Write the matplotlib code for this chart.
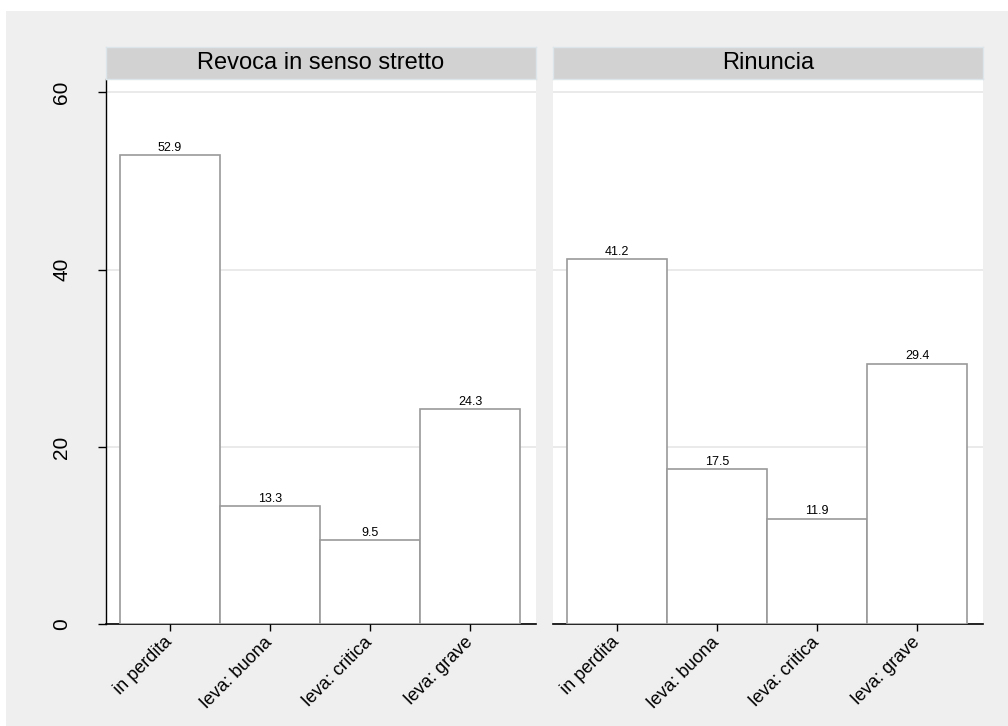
import matplotlib
matplotlib.use("Agg")
import matplotlib.pyplot as plt
from matplotlib.patches import Rectangle

plt.rcParams['font.family'] = ['Liberation Sans', 'DejaVu Sans']

# dati
categorie = ["in perdita", "leva: buona", "leva: critica", "leva: grave"]
pannelli = ["Revoca in senso stretto", "Rinuncia"]
revoca = [52.9, 13.3, 9.5, 24.3]
rinuncia = [41.2, 17.5, 11.9, 29.4]
valori = [revoca, rinuncia]
yticks = [0, 20, 40, 60]

W, H = 1008, 726
fig = plt.figure(figsize=(W / 100, H / 100), dpi=100, facecolor="#efefef")
# bordo bianco in alto e a sinistra
fig.patches.append(Rectangle((0, (H - 11) / H), 1, 11 / H, transform=fig.transFigure,
                             facecolor="white", edgecolor="none", zorder=-10))
fig.patches.append(Rectangle((0, 0), 6 / W, 1, transform=fig.transFigure,
                             facecolor="white", edgecolor="none", zorder=-10))

lefts = [106 / W, 553 / W]
ax_w = 430 / W
ax_b = (H - 624.3) / H
ax_h = (624.3 - 79) / H
strip_h = 31.7 / H

x = [1, 2, 3, 4]
for i in range(2):
    ax = fig.add_axes([lefts[i], ax_b, ax_w, ax_h])
    ax.set_facecolor("white")
    ax.bar(x, valori[i], width=1.0, color="white", edgecolor="#9a9a9a",
           linewidth=1.2, zorder=3)
    for xi, v in zip(x, valori[i]):
        ax.text(xi, v + 0.15, f"{v:.1f}", ha="center", va="bottom", fontsize=9, zorder=4)
    ax.set_xlim(0.36, 4.66)
    ax.set_ylim(0, 61.5)
    ax.set_yticks(yticks)
    ax.grid(axis="y", color="#e6e6e6", linewidth=1.2, zorder=0)
    ax.set_axisbelow(True)
    ax.set_xticks(x)
    ax.set_xticklabels(categorie, rotation=45, ha="right", va="center",
                       rotation_mode="anchor", fontsize=13)
    ax.tick_params(axis="x", length=5, width=1, pad=6)
    for s in ["top", "right"]:
        ax.spines[s].set_visible(False)
    ax.spines["bottom"].set_linewidth(1.2)
    if i == 0:
        ax.spines["left"].set_linewidth(1.0)
        ax.set_yticklabels([str(t) for t in yticks], rotation=90, va="center",
                           fontsize=15)
        ax.tick_params(axis="y", length=6, width=1, pad=19)
    else:
        ax.spines["left"].set_visible(False)
        ax.tick_params(axis="y", length=0, labelleft=False)

    # striscia del titolo
    sax = fig.add_axes([lefts[i], ax_b + ax_h, ax_w, strip_h])
    sax.set_facecolor("#d2d2d2")
    for s in sax.spines.values():
        s.set_edgecolor("#dce6ea")
        s.set_linewidth(1.0)
    sax.set_xticks([])
    sax.set_yticks([])
    sax.text(0.5, 0.5, pannelli[i], ha="center", va="center", fontsize=17,
             transform=sax.transAxes)

fig.savefig("out.png", dpi=100, facecolor=fig.get_facecolor())
